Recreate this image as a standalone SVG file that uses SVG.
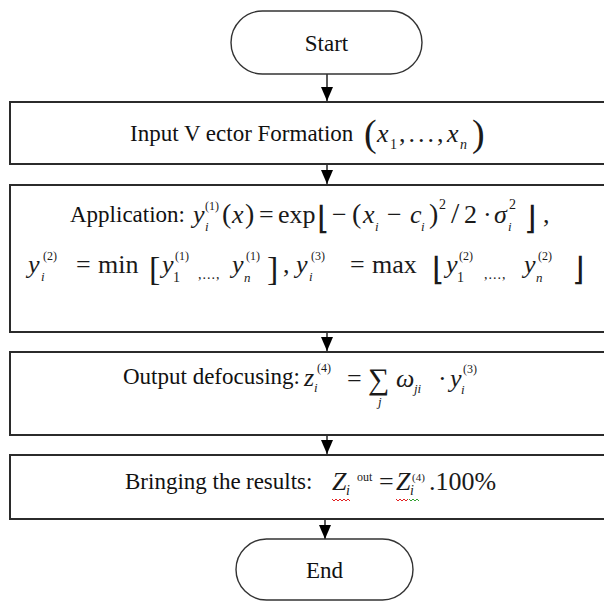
<svg xmlns="http://www.w3.org/2000/svg" width="604" height="602" viewBox="0 0 604 602">
<defs>
<style>
.box{fill:#fff;stroke:#2b2b2b;stroke-width:2}
.term{fill:#fff;stroke:#333;stroke-width:1.4}
.conn{stroke:#000;stroke-width:1.3;fill:none}
.t{font-family:"Liberation Serif","Times New Roman",serif;font-size:23px;fill:#111}
.m{font-family:"Liberation Serif","Times New Roman",serif;font-size:26px;fill:#1a1a1a}
.v{font-style:italic}
.s{font-size:13px}
.br{font-family:"Liberation Serif","Times New Roman",serif;font-size:34px;fill:#1a1a1a}
.fl{font-family:"DejaVu Sans",sans-serif;font-size:32px;font-weight:200;fill:#1a1a1a}
.wr{stroke:#e02020;stroke-width:1;fill:none}
.wg{stroke:#30a030;stroke-width:1;fill:none}
</style>
<marker id="ah" viewBox="0 0 12 14" refX="6" refY="14" markerWidth="12" markerHeight="14" markerUnits="userSpaceOnUse">
<path d="M0,0 L12,0 L6,14 Z" fill="#000"/>
</marker>
</defs>

<g id="connectors">
<path class="conn" d="M327,74 V101" marker-end="url(#ah)"/>
<path class="conn" d="M327,164 V184" marker-end="url(#ah)"/>
<path class="conn" d="M327,332 V351" marker-end="url(#ah)"/>
<path class="conn" d="M327,435 V454" marker-end="url(#ah)"/>
<path class="conn" d="M325,519 V539" marker-end="url(#ah)"/>
</g>

<g id="start">
<rect class="term" x="231" y="11" width="191" height="63" rx="31.5"/>
<text class="t" x="326.5" y="51" text-anchor="middle" font-size="24">Start</text>
</g>

<g id="input">
<rect class="box" x="10" y="102" width="600" height="62"/>
<text class="t" x="130" y="141">Input V ector Formation</text>
<text class="m"><tspan x="364" y="146" font-size="38">(</tspan><tspan x="377" y="142" class="v">x</tspan><tspan x="390" y="149" font-size="14">1</tspan><tspan x="399" y="142" letter-spacing="3">,...,</tspan><tspan x="447" y="142" class="v">x</tspan><tspan x="460" y="149" class="v" font-size="14">n</tspan><tspan x="472" y="146" font-size="38">)</tspan></text>
</g>

<g id="application">
<rect class="box" x="10" y="185" width="600" height="147"/>
<text class="t" x="70" y="222" font-size="20">Application:</text>
<g transform="translate(5,0)">
<text class="m"><tspan x="188" y="223" class="v">y</tspan><tspan x="200" y="210" font-size="12">(1)</tspan><tspan x="200" y="231" class="s v">i</tspan><tspan x="217" y="223" font-size="28">(</tspan><tspan x="227" y="223" class="v">x</tspan><tspan x="240" y="223" font-size="28">)</tspan><tspan x="254" y="223">=</tspan><tspan x="273" y="223">exp</tspan><tspan x="327" y="223">−</tspan><tspan x="347" y="223" font-size="28">(</tspan><tspan x="358" y="223" class="v">x</tspan><tspan x="370" y="231" class="s v">i</tspan><tspan x="382" y="223">−</tspan><tspan x="405" y="223" class="v">c</tspan><tspan x="416" y="231" class="s v">i</tspan><tspan x="424" y="223" font-size="28">)</tspan><tspan x="434" y="209" font-size="14">2</tspan><tspan x="446" y="223" font-size="30">/</tspan><tspan x="459" y="223">2</tspan><tspan x="478" y="223">·</tspan><tspan x="489" y="223" class="v">σ</tspan><tspan x="503" y="231" class="s v">i</tspan><tspan x="504" y="209" font-size="14">2</tspan><tspan x="538" y="223">,</tspan></text>
<text class="fl" x="312" y="229">⌊</text>
<text class="fl" x="519" y="229">⌋</text>
</g>

<text class="m"><tspan x="28" y="273" class="v">y</tspan><tspan x="43" y="260" font-size="12">(2)</tspan><tspan x="41" y="281" class="s v">i</tspan><tspan x="76" y="273">=</tspan><tspan x="98" y="273">min</tspan><tspan x="162" y="273" class="v">y</tspan><tspan x="173" y="282" font-size="14">1</tspan><tspan x="175" y="260" font-size="12">(1)</tspan><tspan x="198" y="279" font-size="14" letter-spacing="1">,...,</tspan><tspan x="232" y="273" class="v">y</tspan><tspan x="244" y="282" class="s v">n</tspan><tspan x="246" y="260" font-size="12">(1)</tspan><tspan x="283" y="273">,</tspan><tspan x="296" y="273" class="v">y</tspan><tspan x="311" y="260" font-size="12">(3)</tspan><tspan x="309" y="281" class="s v">i</tspan><tspan x="350" y="273">=</tspan><tspan x="372" y="273">max</tspan><tspan x="446" y="273" class="v">y</tspan><tspan x="457" y="282" font-size="14">1</tspan><tspan x="459" y="260" font-size="12">(2)</tspan><tspan x="484" y="279" font-size="14" letter-spacing="1">,...,</tspan><tspan x="524" y="273" class="v">y</tspan><tspan x="536" y="282" class="s v">n</tspan><tspan x="538" y="260" font-size="12">(2)</tspan></text>
<text class="br" x="149" y="280">[</text>
<text class="br" x="267" y="280">]</text>
<text class="fl" x="432" y="280">⌊</text>
<text class="fl" x="572" y="280">⌋</text>
</g>

<g id="output">
<rect class="box" x="10" y="352" width="600" height="83"/>
<text class="t" x="123" y="384" font-size="22.5">Output defocusing:</text>
<text class="m" fill="#333" font-size="22"><tspan x="304" y="386" class="v">z</tspan><tspan x="317" y="372" font-size="12">(4)</tspan><tspan x="314" y="392" class="s v">i</tspan><tspan x="347" y="387">=</tspan><tspan x="368" y="389" font-size="30">∑</tspan><tspan x="378" y="406" class="s v">j</tspan><tspan x="396" y="387" class="v">ω</tspan><tspan x="414" y="393" class="s v">ji</tspan><tspan x="438" y="387">·</tspan><tspan x="450" y="387" class="v">y</tspan><tspan x="461" y="394" class="s v">i</tspan><tspan x="463" y="373" font-size="12">(3)</tspan></text>
</g>

<g id="results">
<rect class="box" x="10" y="455" width="600" height="64"/>
<text class="t" x="125" y="489" font-size="22.5">Bringing the</text>
<text class="t" x="246" y="489" font-size="22.5">results:</text>
<text class="m" font-size="24"><tspan x="332" y="490" class="v">Z</tspan><tspan x="346" y="495" font-size="14" class="v">i</tspan><tspan x="357" y="481" font-size="12">out</tspan><tspan x="379" y="490">=</tspan><tspan x="396" y="490" class="v">Z</tspan><tspan x="410" y="495" font-size="14" class="v">i</tspan><tspan x="412" y="481" font-size="11">(4)</tspan><tspan x="429" y="490">.100%</tspan></text>
<path class="wr" d="M332,499 l2,2 l2,-2 l2,2 l2,-2 l2,2 l2,-2 l2,2 l2,-2 l2,2"/>
<path class="wr" d="M396,499 l2,2 l2,-2 l2,2 l2,-2 l2,2 l2,-2"/>
<path class="wg" d="M409,499 l2,2 l2,-2 l2,2 l2,-2 l2,2"/>
</g>

<g id="end">
<rect class="term" x="236" y="539" width="177" height="61" rx="30.5"/>
<text class="t" x="324.5" y="578" text-anchor="middle" font-size="24">End</text>
</g>
</svg>
